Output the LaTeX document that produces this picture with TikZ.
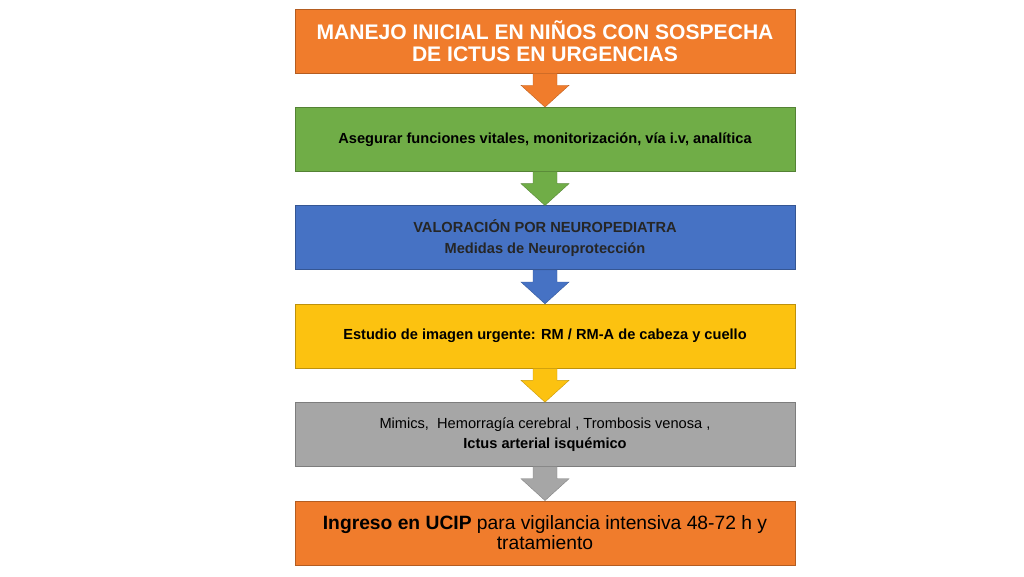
\documentclass[tikz,border=0pt]{standalone}
\usepackage{fontspec}
\setmainfont{Liberation Sans}
\usepackage{tikz}
\usetikzlibrary{positioning,calc}

\definecolor{orng}{RGB}{240,124,44}
\definecolor{grn}{RGB}{112,173,71}
\definecolor{blu}{RGB}{70,114,196}
\definecolor{ylw}{RGB}{252,194,16}
\definecolor{gry}{RGB}{166,166,166}

\begin{document}
\begin{tikzpicture}[node distance=0.845cm,
    stagebox/.style={rectangle,fill=#1,draw=#1!75!black,line width=0.4pt,
      minimum width=12.5cm,minimum height=1.6cm,align=center,inner sep=0pt},
    small/.style={font=\fontsize{10.4}{15}\selectfont\bfseries},
    fatarrow/.style={fill=#1,draw=#1!80!black,line width=0.3pt,to path={
      ($(\tikztostart)+(-0.3,0)$) -- ($(\tikztostart)+(-0.3,-0.3)$) -- ($(\tikztostart)+(-0.6,-0.3)$)
      -- (\tikztotarget) -- ($(\tikztostart)+(0.6,-0.3)$) -- ($(\tikztostart)+(0.3,-0.3)$)
      -- ($(\tikztostart)+(0.3,0)$) -- cycle}}]
    \useasboundingbox (0,0) rectangle (25.6,-14.4);

    \node[stagebox=orng,text=white,font=\fontsize{15}{15.6}\selectfont\bfseries] (A) at (13.625,-1.025)
      {MANEJO INICIAL EN NIÑOS CON SOSPECHA\\ DE ICTUS EN URGENCIAS};
    \node[stagebox=grn,small] (B) [below=of A]
      {Asegurar funciones vitales, monitorización, vía i.v, analítica};
    \node[stagebox=blu,small,text=black!85] (C) [below=of B]
      {VALORACIÓN POR NEUROPEDIATRA\\ Medidas de Neuroprotección};
    \node[stagebox=ylw,small] (D) [below=of C]
      {Estudio de imagen urgente: RM / RM-A de cabeza y cuello};
    \node[stagebox=gry,font=\fontsize{10.4}{14}\selectfont] (E) [below=of D]
      {Mimics,\ \ Hemorragía cerebral , Trombosis venosa ,\\ \textbf{Ictus arterial isquémico}};
    \node[stagebox=orng,font=\fontsize{13.7}{14.4}\selectfont] (F) [below=of E]
      {\textbf{Ingreso en UCIP} para vigilancia intensiva 48-72 h y\\ tratamiento};

    % block arrows between the stages
    \path[fatarrow=orng] (A.south) to (B.north);
    \path[fatarrow=grn]  (B.south) to (C.north);
    \path[fatarrow=blu]  (C.south) to (D.north);
    \path[fatarrow=ylw]  (D.south) to (E.north);
    \path[fatarrow=gry]  (E.south) to (F.north);

  \end{tikzpicture}
\end{document}
